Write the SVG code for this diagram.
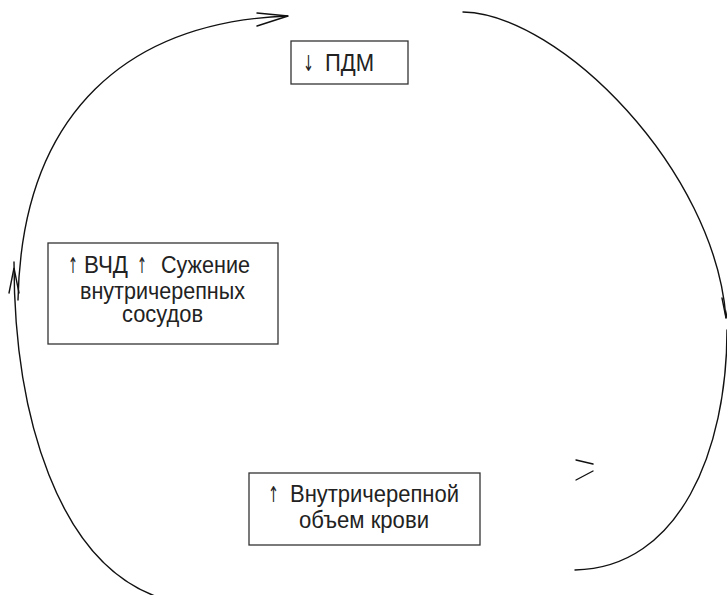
<svg xmlns="http://www.w3.org/2000/svg" width="727" height="595" viewBox="0 0 727 595">
<style>
.box{fill:#fff;stroke:#333;stroke-width:1.3}
.t{font-family:"Liberation Sans",Arial,sans-serif;font-size:24px;fill:#222}
.a{font-family:"DejaVu Sans",sans-serif;font-size:22px}
.c{fill:none;stroke:#111;stroke-width:1.4;stroke-linecap:round}
</style>
<rect width="727" height="595" fill="#fff"/>
<g id="connectors">
<path class="c" d="M18,300 C22,110 130,22 288,16"/>
<path class="c" d="M257,13 L288,16 L257,26"/>
<path class="c" d="M463,12 C560,14 715,170 726,318"/>
<path class="c" d="M722,298 L726,318 L730,298"/>
<path class="c" d="M727,330 C727,450 680,568 575,570"/>
<path class="c" d="M576,460 L593,464 M576,480 L593,471"/>
<path class="c" d="M14,262 C14,420 60,560 155,596"/>
<path class="c" d="M9,293 L14,268 L19,293"/>
</g>
<g id="node-pdm">
<rect class="box" x="291" y="41" width="117" height="43"/>
<text class="t" y="70.5"><tspan class="a" x="303" textLength="11" lengthAdjust="spacingAndGlyphs">↓</tspan><tspan x="325" textLength="49" lengthAdjust="spacingAndGlyphs">ПДМ</tspan></text>
</g>
<g id="node-vchd">
<rect class="box" x="48" y="243" width="230" height="101"/>
<text class="t"><tspan class="a" x="68" y="273" textLength="10" lengthAdjust="spacingAndGlyphs">↑</tspan><tspan x="84" y="273" textLength="44" lengthAdjust="spacingAndGlyphs">ВЧД</tspan><tspan class="a" x="137" y="273" textLength="10" lengthAdjust="spacingAndGlyphs">↑</tspan><tspan x="161" y="273" textLength="89" lengthAdjust="spacingAndGlyphs">Сужение</tspan><tspan x="80" y="299" textLength="165" lengthAdjust="spacingAndGlyphs">внутричерепных</tspan><tspan x="122" y="322" textLength="81" lengthAdjust="spacingAndGlyphs">сосудов</tspan></text>
</g>
<g id="node-volume">
<rect class="box" x="249" y="473" width="231" height="72"/>
<text class="t"><tspan class="a" x="268" y="502" textLength="11" lengthAdjust="spacingAndGlyphs">↑</tspan><tspan x="290" y="502" textLength="169" lengthAdjust="spacingAndGlyphs">Внутричерепной</tspan><tspan x="299" y="528" textLength="130" lengthAdjust="spacingAndGlyphs">объем крови</tspan></text>
</g>
</svg>
